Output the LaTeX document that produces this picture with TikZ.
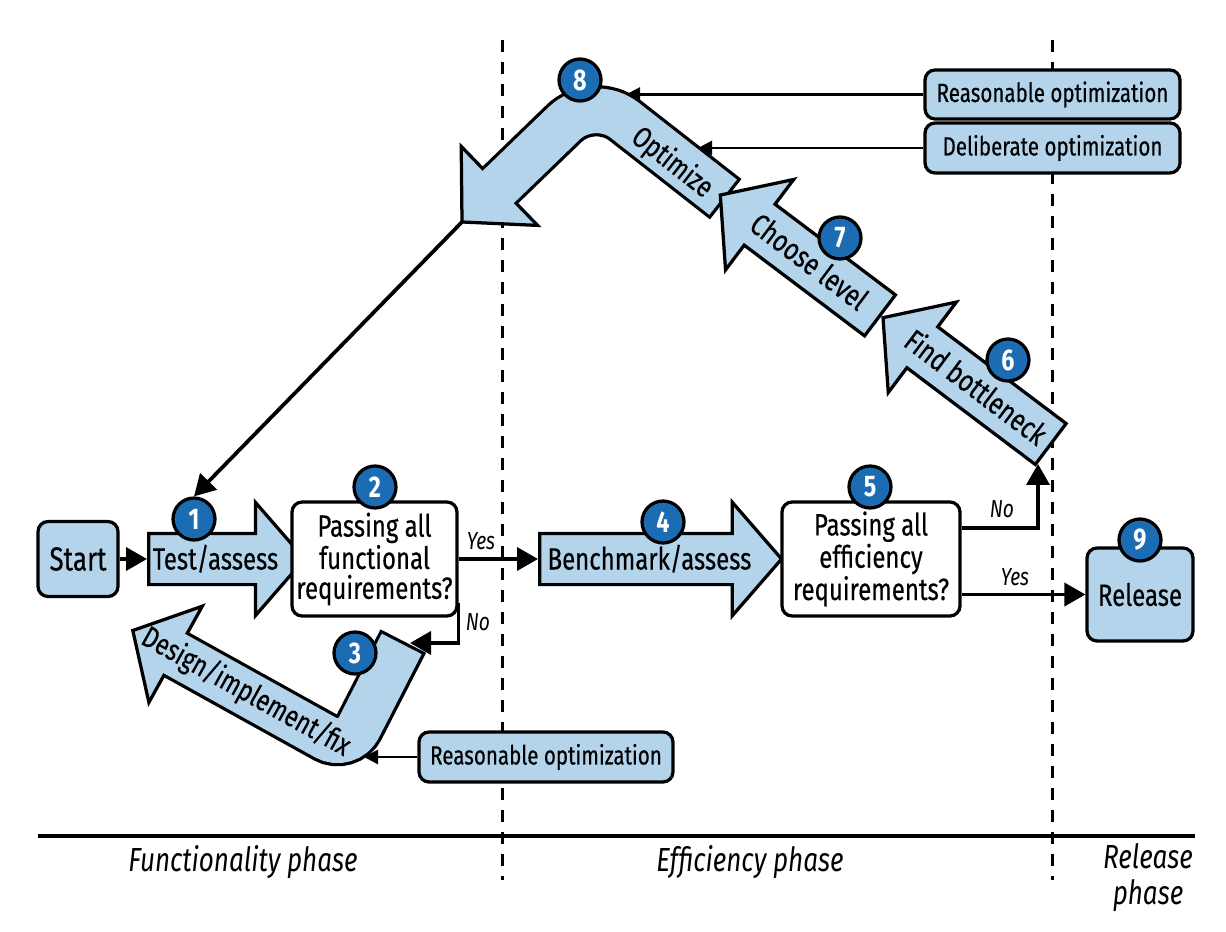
\documentclass[tikz,border=0pt]{standalone}
\usepackage{fontspec}
\setmainfont{Fira Sans}[FakeStretch=0.78,UprightFeatures={FakeBold=0.4}]
\usetikzlibrary{arrows.meta,shapes.arrows}
\definecolor{lblue}{RGB}{180,212,236}
\definecolor{dblue}{RGB}{28,108,180}

\begin{document}
\begin{tikzpicture}[x=0.02cm,y=-0.02cm,
  flowbox/.style={draw=black,line width=0.065cm,rounded corners=0.2cm,align=center,inner sep=0pt,font=\fontsize{17.5}{17}\selectfont},
  blockarrow/.style={single arrow,draw=black,fill=lblue,line width=0.065cm,single arrow head extend=0.62cm,single arrow tip angle=98,text height=0.44cm,text depth=0.02cm,inner ysep=0.25cm,inner xsep=0.05cm,font=\fontsize{17.5}{17.5}\selectfont},
  numcirc/.style={circle,draw=black,line width=0.065cm,fill=dblue,text=white,minimum size=0.84cm,inner sep=0pt,font=\fontsize{17}{17}\selectfont\bfseries},
  conn/.style={-{Triangle[length=0.42cm,width=0.46cm]},line width=0.075cm},
  feed/.style={-{Triangle[length=0.28cm,width=0.28cm]},line width=0.055cm},
  phaseline/.style={line width=0.06cm,dash pattern=on 0.24cm off 0.2cm},
  phase/.style={font=\fontsize{19}{20.5}\selectfont\itshape,align=center},
  yesno/.style={font=\fontsize{14}{14}\selectfont\itshape},
  bendout/.style={line width=1.025cm,draw=black},
  bendin/.style={line width=0.895cm,draw=lblue},
  bendtext/.style={font=\fontsize{17}{17}\selectfont},
  sidebox/.style={flowbox,fill=lblue,minimum width=5.1cm,minimum height=1cm,font=\fontsize{15}{15}\selectfont},
]
\useasboundingbox (0,0) rectangle (1226,932);

% phase separators and time axis
\draw[phaseline] (502,40) -- (502,880);
\draw[phaseline] (1052,40) -- (1052,880);
\draw[line width=0.07cm] (38,836) -- (1195,836);
\node[phase] (fphase) at (243,862) {Functionality phase};
\node[phase] (ephase) at (750,862) {Efficiency phase};
\node[phase] (rphase) at (1148,878) {Release\\phase};

% design/implement/fix: bent block arrow
\draw[bendout,rounded corners=0.5cm] (403.3,641.1) -- (347.5,749.7) -- (175.6,654.3);
\filldraw[fill=lblue,draw=black,line width=0.065cm] (148.9,702.4) -- (132.8,630.5) -- (202.3,606.2) -- cycle;
\draw[bendin,rounded corners=0.5cm] (401.7,643.9) -- (347.5,749.7) -- (173,652.8);
\node[bendtext,rotate=-29] (dtext) at (246,692) {Design/implement/fix};

% optimize: bent block arrow
\draw[bendout,rounded corners=0.8cm] (725.7,199.2) -- (593,95.5) -- (499.4,185.9);
\filldraw[fill=lblue,draw=black,line width=0.065cm] (537.6,225.4) -- (462,222) -- (461.2,146.4) -- cycle;
\draw[bendin,rounded corners=0.8cm] (723.1,197.2) -- (593,95.5) -- (497.2,188);
\node[bendtext,rotate=-38] (otext) at (672,163) {Optimize};
\coordinate (opttip) at (462,222);

% straight block arrows
\node[blockarrow,minimum height=2.9cm,anchor=tail] (test) at (147,559) {Test/assess};
\node[blockarrow,minimum height=4.84cm,anchor=tail] (bench) at (538,559) {Benchmark/assess};
\node[blockarrow,shape border rotate=180,rotate=-37,minimum height=4.2cm,anchor=tail] (find) at (1052,445) {Find bottleneck};
\node[blockarrow,shape border rotate=180,rotate=-37,minimum height=4cm,anchor=tail] (choose) at (find.tip) {Choose level};

% boxes
\node[flowbox,fill=lblue,minimum width=1.6cm,minimum height=1.5cm,font=\fontsize{19}{19}\selectfont] (start) at (78,559) {Start};
\node[flowbox,fill=white,minimum width=3.3cm,minimum height=2.28cm] (funcq) at (374.5,559) {Passing all\\functional\\requirements?};
\node[flowbox,fill=white,minimum width=3.56cm,minimum height=2.28cm] (effq) at (871,559) {Passing all\\efficiency\\requirements?};
\node[flowbox,fill=lblue,minimum width=2.12cm,minimum height=1.86cm] (release) at (1140,594.5) {Release};
\node[sidebox,minimum height=0.98cm] (rtop) at (1052.5,94.5) {Reasonable optimization};
\node[sidebox] (dtop) at (1052.5,148) {Deliberate optimization};
\node[sidebox,minimum width=5.08cm] (rbot) at (546,757) {Reasonable optimization};

% connector ends on the bent arrows
\coordinate (dtail) at (410,643);
\coordinate (fbcorner) at (1038,464);
\coordinate (r8) at (626,94.5);
\coordinate (d8) at (698,148);
\coordinate (r3) at (364,757);

% connectors
\draw[conn] (start) -- (test.tail);
\draw[conn] (funcq) -- (bench.tail);
\draw[conn] ([yshift=0.3cm]funcq.south east) |- (dtail);
\draw[conn] ([yshift=0.62cm]effq.east) -| (fbcorner);
\draw[conn] (effq.east |- release.west) -- (release.west);
\draw[feed] (rtop) -- (r8);
\draw[feed] (dtop) -- (d8);
\draw[feed] (rbot) -- (r3);
\node[yesno] (yes1) at (481,541) {Yes};
\node[yesno] (no1) at (478,622) {No};
\node[yesno] (no2) at (1002,509) {No};
\node[yesno] (yes2) at (1015,577) {Yes};

% step numbers
\node[numcirc] (n1) at (194,519) {1};
\node[numcirc] (n2) at (375,487) {2};
\node[numcirc] (n3) at (355,653) {3};
\node[numcirc] (n4) at (663,522) {4};
\node[numcirc] (n5) at (870,487) {5};
\node[numcirc] (n6) at (1008,360) {6};
\node[numcirc] (n7) at (840,238) {7};
\node[numcirc] (n8) at (580,80) {8};
\node[numcirc] (n9) at (1140,540) {9};
\draw[conn] (opttip) -- (n1.north);
\end{tikzpicture}
\end{document}
